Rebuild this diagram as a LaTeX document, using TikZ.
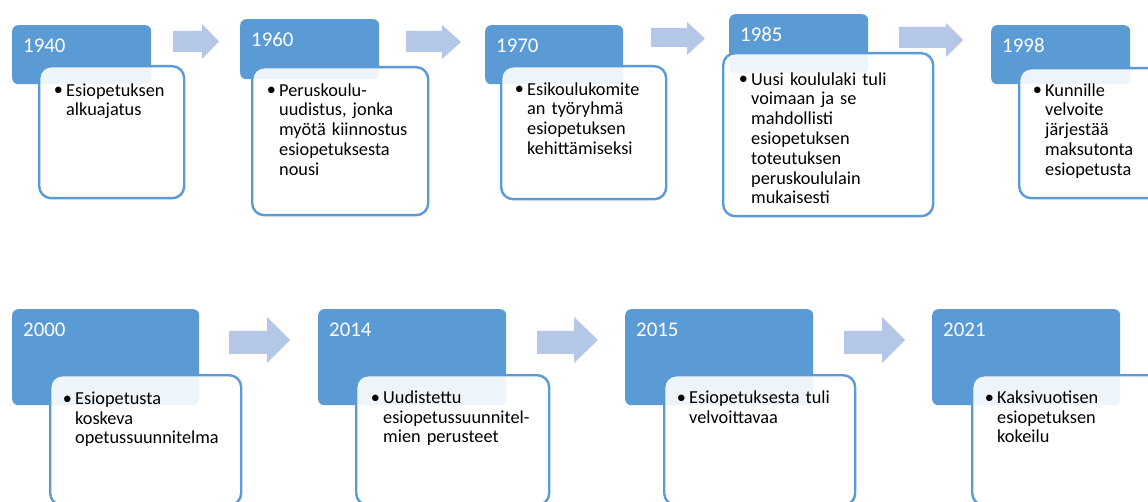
\documentclass[tikz,border=0pt]{standalone}
\usepackage{fontspec}
\setmainfont{Carlito}
\definecolor{accent}{HTML}{5B9BD5}
\definecolor{arrowfill}{HTML}{B4C7E7}
\tikzset{
  yearbox/.style={draw=none, fill=accent, rounded corners=6pt, anchor=north west, inner sep=0pt},
  infobox/.style={draw=accent, line width=2.4pt, fill=white, fill opacity=0.9, rounded corners=12pt, anchor=north west, inner sep=0pt},
  yeartext/.style={anchor=base west, inner sep=0pt, text=white, font=\fontsize{20.9}{24}\selectfont},
  itemtext/.style={anchor=north west, inner sep=0pt, align=left, text width=230pt, text=black, font=\fontsize{18.3}{19.8}\selectfont},
  bullettext/.style={anchor=base, inner sep=0pt, text=black, font=\fontsize{18.3}{19.8}\selectfont},
  blockarrow/.style={fill=arrowfill, draw=none}
}
\begin{document}
\begin{tikzpicture}[x=1pt,y=-1pt]
\useasboundingbox (0,0) rectangle (1148,502);
\fill[white] (0,0) rectangle (1148,502);

% block arrows: x1/xh/x2/ytop/ybot/shafttop/shaftbot
\foreach \xa/\xh/\xb/\yt/\yb/\sa/\sb in {
  173/202/219/24/59/31/52,
  406/442/461/25/59/31/52,
  651/687/705/22/55/28/47,
  899/946/963/23/57/27/48,
  229/267/290/317/363/331/354,
  537/574/598/317/363/331/354,
  844/882/905/317/363/331/354}{
  \path[blockarrow] (\xa,\sa) -- (\xh,\sa) -- (\xh,\yt) -- (\xb,{(\yt+\yb)/2}) -- (\xh,\yb) -- (\xh,\sb) -- (\xa,\sb) -- cycle;
}

% name / blue x,y,w,h / white x,y,w,h / text x / baseline / lines
\foreach \nm/\bx/\by/\bw/\bh/\wx/\wy/\ww/\wh/\tx/\bl/\txt in {
  1940/12/25/139/59/38/65/145/132/66/96/{Esiopetuksen\\alkuajatus},
  1960/240/19/139/60/251/66/176/148/279/96/{Peruskoulu-\\uudistus, jonka\\myötä kiinnostus\\esiopetuksesta\\nousi},
  1970/485/25/138/59/500/65/165/133/527/95/{Esikoulukomite\\an työryhmä\\esiopetuksen\\kehittämiseksi},
  1985/729/14/139/59/722/52/210/163/751/85/{Uusi koululaki tuli\\voimaan ja se\\mahdollisti\\esiopetuksen\\toteutuksen\\peruskoululain\\mukaisesti},
  1998/991/25/139/59/1018/67/160/130/1045/96/{Kunnille\\velvoite\\järjestää\\maksutonta\\esiopetusta},
  2000/12/309/187/96/49/374/191/130/75/404/{Esiopetusta\\koskeva\\opetussuunnitelma},
  2014/318/309/188/96/355/374/193/130/383/403/{Uudistettu\\esiopetussuunnitel-\\mien perusteet},
  2015/625/309/188/96/663/374/191/130/689/403/{Esiopetuksesta tuli\\velvoittavaa},
  2021/932/309/188/96/971/374/191/130/997/403/{Kaksivuotisen\\esiopetuksen\\kokeilu}}{
  \node[yearbox, minimum width=\bw pt, minimum height=\bh pt] (y\nm) at (\bx,\by) {};
  \node[yeartext] (yt\nm) at (\bx+11,\by+28) {\nm};
  \node[infobox, minimum width=\ww pt, minimum height=\wh pt] (w\nm) at (\wx,\wy) {};
  \node[bullettext] (b\nm) at (\tx-7.5,\bl) {•};
  \node[itemtext] (t\nm) at (\tx,\bl-14.5) {\rule{0pt}{14.5pt}\txt};
}
\end{tikzpicture}
\end{document}
